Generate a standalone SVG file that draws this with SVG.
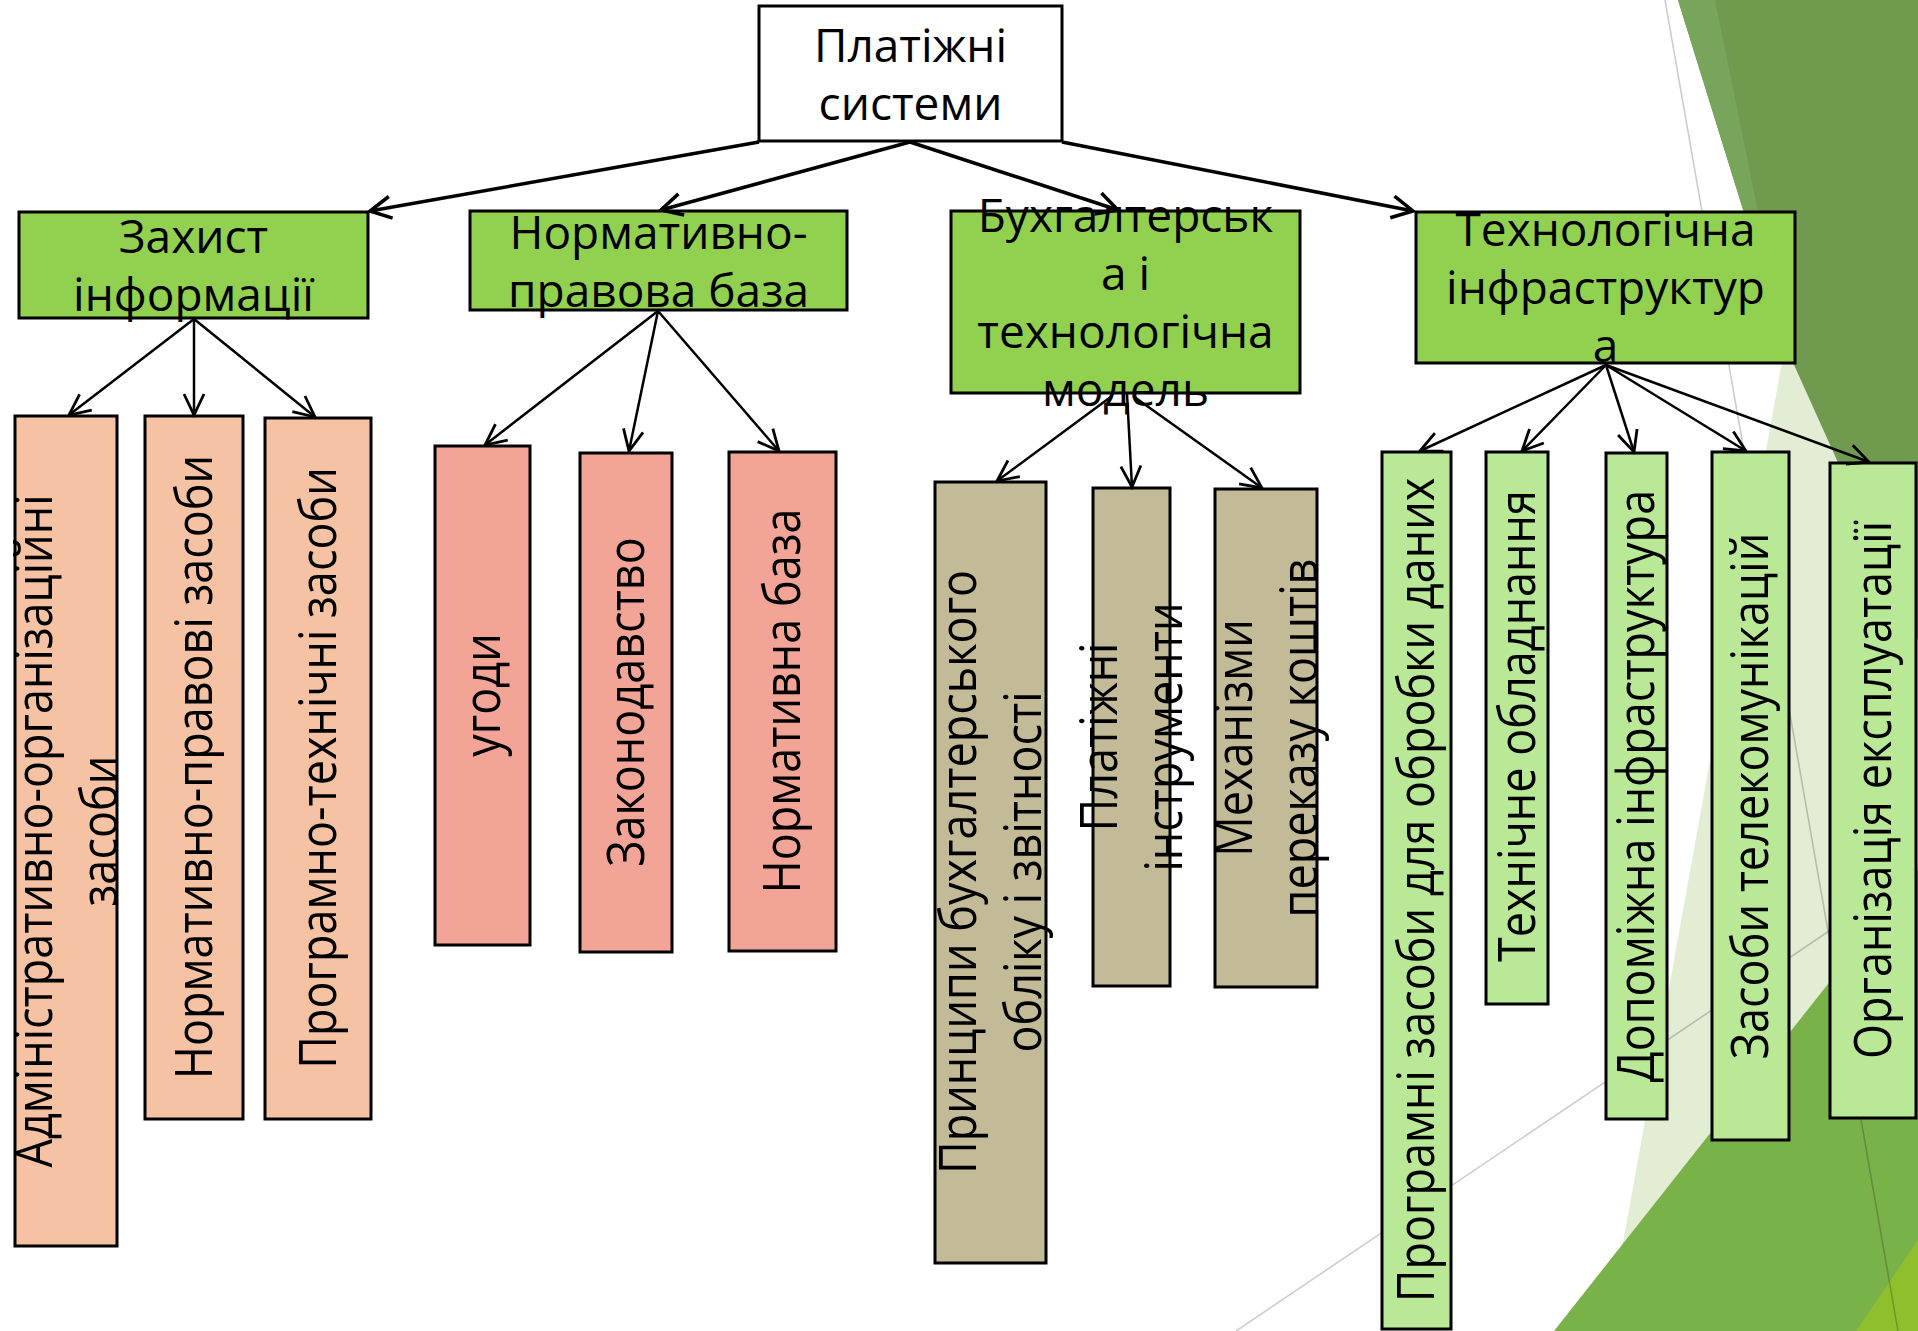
<svg xmlns="http://www.w3.org/2000/svg" width="1918" height="1331" viewBox="0 0 1918 1331">
<defs>
<style>
.bx{stroke:#000;stroke-width:3}
.root{fill:#fff}
.l1{fill:#92d050}
.za{fill:#f5c3a3}
.no{fill:#f2a597}
.bu{fill:#c3bb97}
.te{fill:#b9e896}
text{font-family:"Open Sans","Noto Sans","DejaVu Sans",sans-serif;font-size:46px;fill:#000;text-anchor:middle}
.v text{font-size:45px}
.c1{stroke:#000;stroke-width:3.5;fill:none;marker-end:url(#ah)}
.c2{stroke:#000;stroke-width:2.5;fill:none;marker-end:url(#ah2)}
.gl{stroke:#000;stroke-opacity:0.2;stroke-width:1.6;fill:none}
</style>
<marker id="ah" markerUnits="userSpaceOnUse" markerWidth="26" markerHeight="26" refX="22" refY="12" orient="auto" overflow="visible">
<path d="M1,1 L22,12 L1,23" fill="none" stroke="#000" stroke-width="3.5"/>
</marker>
<marker id="ah2" markerUnits="userSpaceOnUse" markerWidth="26" markerHeight="26" refX="22" refY="11" orient="auto" overflow="visible">
<path d="M1,1 L22,11 L1,21" fill="none" stroke="#000" stroke-width="2.8"/>
</marker>
</defs>
<rect width="1918" height="1331" fill="#fff"/>
<g id="background">
<polygon points="1785,345 1918,640 1918,1331 1607,1331" fill="#e3edd4"/>
<polygon points="1678,0 1918,0 1918,640 1785,345" fill="#709b4e"/>
<polygon points="1678,0 1715,0 1785,345" fill="#77a55c"/>
<polygon points="1554,1331 1918,870 1918,1331" fill="#7ab24a"/>
<polygon points="1856,1331 1918,1240 1918,1331" fill="#8fbf2c"/>
<line class="gl" x1="1665" y1="0" x2="1898" y2="1331"/>
<line class="gl" x1="1236" y1="1331" x2="1918" y2="871"/>
</g>
<g id="root">
<rect class="bx root" x="759" y="6" width="303" height="135"/>
<text x="910.5" y="62">Платіжні</text>
<text x="910.5" y="120">системи</text>
</g>
<g id="n-zakhyst">
<rect class="bx l1" x="19" y="212" width="349" height="106"/>
<text x="193.5" y="253">Захист</text>
<text x="193.5" y="311">інформації</text>
</g>
<g id="n-normatyvno">
<rect class="bx l1" x="470" y="211" width="377" height="99"/>
<text x="658.5" y="249">Нормативно-</text>
<text x="658.5" y="307">правова база</text>
</g>
<g id="n-bukh">
<rect class="bx l1" x="951" y="211" width="349" height="182"/>
<text x="1125.5" y="232">Бухгалтерськ</text>
<text x="1125.5" y="290">а і</text>
<text x="1125.5" y="348">технологічна</text>
<text x="1125.5" y="406">модель</text>
</g>
<g id="n-tekh">
<rect class="bx l1" x="1416" y="212" width="379" height="151"/>
<text x="1605.5" y="246">Технологічна</text>
<text x="1605.5" y="304">інфраструктур</text>
<text x="1605.5" y="362">а</text>
</g>
<g id="n-admin" class="v">
<rect class="bx za" x="15" y="416" width="102" height="830"/>
<g transform="translate(66,831) scale(1.14,1) rotate(-90)"><text x="0" y="-12">Адміністративно-організаційні</text><text x="0" y="45">засоби</text></g>
</g>
<g id="n-normpravovi" class="v">
<rect class="bx za" x="145" y="416" width="98" height="703"/>
<g transform="translate(194,767) scale(1.14,1) rotate(-90)"><text x="0" y="16">Нормативно-правові засоби</text></g>
</g>
<g id="n-prohramno" class="v">
<rect class="bx za" x="265" y="418" width="106" height="701"/>
<g transform="translate(318,768) scale(1.14,1) rotate(-90)"><text x="0" y="16">Програмно-технічні засоби</text></g>
</g>
<g id="n-uhody" class="v">
<rect class="bx no" x="435" y="446" width="95" height="499"/>
<g transform="translate(482,695) scale(1.14,1) rotate(-90)"><text x="0" y="16">угоди</text></g>
</g>
<g id="n-zakonodavstvo" class="v">
<rect class="bx no" x="580" y="453" width="92" height="499"/>
<g transform="translate(626,702) scale(1.14,1) rotate(-90)"><text x="0" y="16">Законодавство</text></g>
</g>
<g id="n-normbaza" class="v">
<rect class="bx no" x="729" y="452" width="107" height="499"/>
<g transform="translate(782,701) scale(1.14,1) rotate(-90)"><text x="0" y="16">Нормативна база</text></g>
</g>
<g id="n-pryntsypy" class="v">
<rect class="bx bu" x="935" y="482" width="111" height="781"/>
<g transform="translate(990,872) scale(1.14,1) rotate(-90)"><text x="0" y="-12">Принципи бухгалтерського</text><text x="0" y="45">обліку і звітності</text></g>
</g>
<g id="n-platizhni" class="v">
<rect class="bx bu" x="1093" y="488" width="77" height="498"/>
<g transform="translate(1131,737) scale(1.14,1) rotate(-90)"><text x="0" y="-12">Платіжні</text><text x="0" y="45">інструменти</text></g>
</g>
<g id="n-mekhanizmy" class="v">
<rect class="bx bu" x="1215" y="489" width="102" height="498"/>
<g transform="translate(1266,738) scale(1.14,1) rotate(-90)"><text x="0" y="-12">Механізми</text><text x="0" y="45">переказу коштів</text></g>
</g>
<g id="n-prohramni" class="v">
<rect class="bx te" x="1382" y="452" width="69" height="877"/>
<g transform="translate(1416,890) scale(1.14,1) rotate(-90)"><text x="0" y="16">Програмні засоби для обробки даних</text></g>
</g>
<g id="n-tekhnichne" class="v">
<rect class="bx te" x="1486" y="452" width="62" height="552"/>
<g transform="translate(1517,726) scale(1.14,1) rotate(-90)"><text x="0" y="16">Технічне обладнання</text></g>
</g>
<g id="n-dopomizhna" class="v">
<rect class="bx te" x="1606" y="453" width="61" height="666"/>
<g transform="translate(1636,786) scale(1.14,1) rotate(-90)"><text x="0" y="16">Допоміжна інфраструктура</text></g>
</g>
<g id="n-telekom" class="v">
<rect class="bx te" x="1712" y="452" width="77" height="688"/>
<g transform="translate(1750,796) scale(1.14,1) rotate(-90)"><text x="0" y="16">Засоби телекомунікацій</text></g>
</g>
<g id="n-orhanizatsiia" class="v">
<rect class="bx te" x="1830" y="463" width="86" height="655"/>
<g transform="translate(1873,790) scale(1.14,1) rotate(-90)"><text x="0" y="16">Організація експлуатації</text></g>
</g>
<g id="connectors">
<line class="c1" x1="759" y1="142" x2="370" y2="211"/>
<line class="c1" x1="910" y1="142" x2="661" y2="210"/>
<line class="c1" x1="910" y1="142" x2="1118" y2="210"/>
<line class="c1" x1="1062" y1="142" x2="1413" y2="211"/>
<line class="c2" x1="194" y1="319" x2="69" y2="415"/>
<line class="c2" x1="194" y1="319" x2="194" y2="415"/>
<line class="c2" x1="194" y1="319" x2="315" y2="417"/>
<line class="c2" x1="658" y1="311" x2="485" y2="445"/>
<line class="c2" x1="658" y1="311" x2="629" y2="451"/>
<line class="c2" x1="658" y1="311" x2="779" y2="451"/>
<line class="c2" x1="1112" y1="396" x2="997" y2="481"/>
<line class="c2" x1="1127" y1="394" x2="1132" y2="487"/>
<line class="c2" x1="1133" y1="396" x2="1262" y2="488"/>
<line class="c2" x1="1606" y1="365" x2="1420" y2="451"/>
<line class="c2" x1="1606" y1="365" x2="1522" y2="451"/>
<line class="c2" x1="1606" y1="365" x2="1634" y2="452"/>
<line class="c2" x1="1606" y1="365" x2="1746" y2="451"/>
<line class="c2" x1="1606" y1="365" x2="1869" y2="462"/>
</g>
</svg>
